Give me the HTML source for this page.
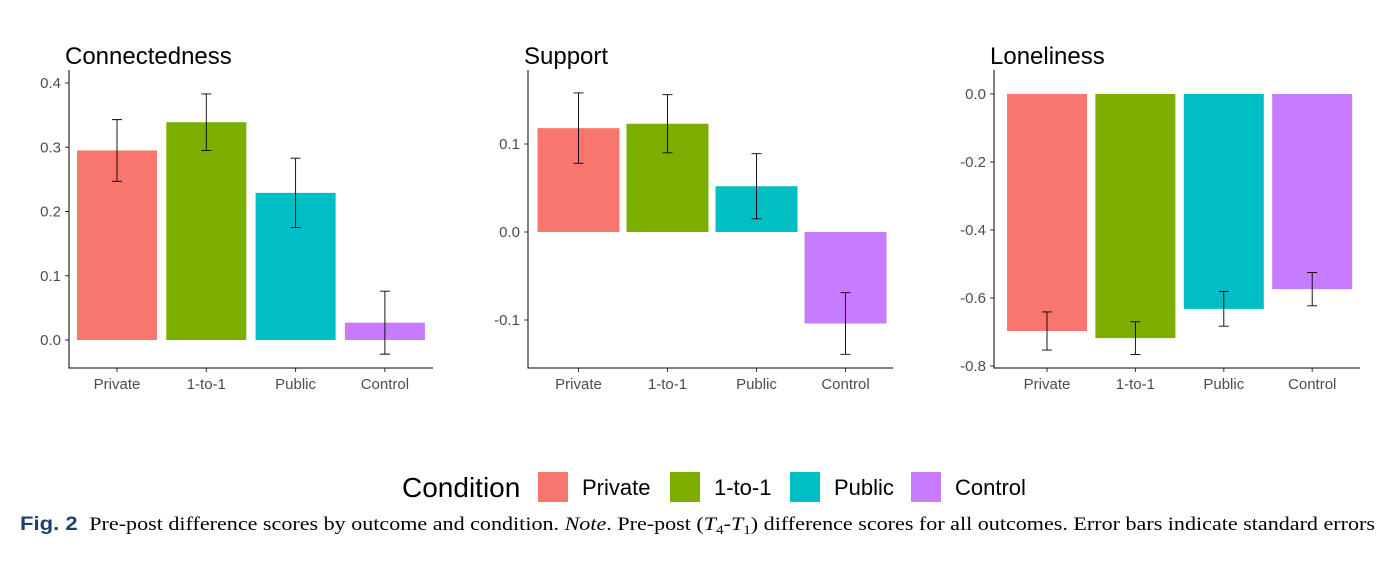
<!DOCTYPE html>
<html><head><meta charset="utf-8">
<style>
body{margin:0;background:#fff;width:1392px;height:560px;overflow:hidden;font-family:"Liberation Sans",sans-serif}
svg text{font-family:"Liberation Sans",sans-serif}
</style></head>
<body>
<svg id="chart" width="1392" height="560" xmlns="http://www.w3.org/2000/svg">
<g id="legend">
<text x="402" y="497" font-size="28" fill="#000">Condition</text>
</g>
<text x="20" y="530" font-size="19" fill="#000" textLength="1355" lengthAdjust="spacingAndGlyphs"><tspan font-weight="bold" fill="#1f3f6e" font-family="Liberation Sans">Fig. 2</tspan><tspan font-family="Liberation Serif" dx="10">Pre-post difference scores by outcome and condition. </tspan><tspan font-family="Liberation Serif" font-style="italic">Note</tspan><tspan font-family="Liberation Serif">. Pre-post (</tspan><tspan font-family="Liberation Serif" font-style="italic">T</tspan><tspan font-family="Liberation Serif" font-size="13" dy="4">4</tspan><tspan font-family="Liberation Serif" dy="-4">-</tspan><tspan font-family="Liberation Serif" font-style="italic">T</tspan><tspan font-family="Liberation Serif" font-size="13" dy="4">1</tspan><tspan font-family="Liberation Serif" dy="-4">) difference scores for all outcomes. Error bars indicate standard errors</tspan></text>
</svg>
<script>
const categories = ["Private","1-to-1","Public","Control"];
const colors = ["#F8766D","#7CAE00","#00BFC4","#C77CFF"];
const connectednessValues = [0.295,0.339,0.229,0.027];
const connectednessErrors = [0.048,0.044,0.054,0.049];
const supportValues = [0.118,0.123,0.052,-0.104];
const supportErrors = [0.040,0.033,0.037,0.035];
const lonelinessValues = [-0.697,-0.718,-0.632,-0.574];
const lonelinessErrors = [0.056,0.048,0.051,0.049];
const connectednessTicks = [0,0.1,0.2,0.3,0.4];
const supportTicks = [-0.1,0,0.1];
const lonelinessTicks = [-0.8,-0.6,-0.4,-0.2,0];
const ns="http://www.w3.org/2000/svg";
const svg=document.getElementById('chart');
function el(t,a,p){const e=document.createElementNS(ns,t);for(const k in a)e.setAttribute(k,a[k]);(p||svg).appendChild(e);return e;}
const panels=[
 {title:"Connectedness",vals:connectednessValues,errs:connectednessErrors,ticks:connectednessTicks,x0:69,x1:433,c0:117,step:89.3,bw:80,top:70,bot:368,v0:0,p0:340,v1:0.4,p1:83},
 {title:"Support",vals:supportValues,errs:supportErrors,ticks:supportTicks,x0:528,x1:893,c0:578.5,step:89,bw:82,top:70,bot:368,v0:0,p0:232,v1:0.1,p1:144},
 {title:"Loneliness",vals:lonelinessValues,errs:lonelinessErrors,ticks:lonelinessTicks,x0:994,x1:1360,c0:1047,step:88.4,bw:80,top:70,bot:368,v0:0,p0:94,v1:-0.8,p1:366}
];
panels.forEach((p)=>{
 const g=el('g',{});
 
 
 const y=v=>p.p0+(v-p.v0)*(p.p1-p.p0)/(p.v1-p.v0);
 const t=el('text',{x:p.x0-4,y:64,'font-size':24,fill:'#000'},g);t.textContent=p.title;
 
 
 p.vals.forEach((v,i)=>{
  const cx=p.c0+p.step*i, w=p.bw;
  const r=el('rect',{x:cx-w/2,y:Math.min(y(v),y(0)),width:w,height:Math.abs(y(v)-y(0)),fill:colors[i]},g);
  
  
  const e=p.errs[i],ya=y(v+e),yb=y(v-e);
  const eb=el('path',{d:`M${cx-5},${ya}H${cx+5}M${cx},${ya}V${yb}M${cx-5},${yb}H${cx+5}`,stroke:'#000','stroke-width':0.9,fill:'none'},g);
  
  
  const lt=el('text',{x:cx,y:p.bot+21,'font-size':15,fill:'#4d4d4d','text-anchor':'middle'},g);lt.textContent=categories[i];
  
  
  el('line',{x1:cx,x2:cx,y1:p.bot,y2:p.bot+4,stroke:'#333'},g);
 });
 p.ticks.forEach(tv=>{
  const ty=y(tv);
  el('line',{x1:p.x0-4,x2:p.x0,y1:ty,y2:ty,stroke:'#333'},g);
  const tl=el('text',{x:p.x0-8,y:ty+5,'font-size':15,fill:'#4d4d4d','text-anchor':'end'},g);
  tl.textContent=tv.toFixed(1);
  
  
 });
 const ax=el('path',{d:`M${p.x0},${p.top}V${p.bot}H${p.x1}`,stroke:'#000','stroke-width':1,fill:'none'},g);
 
 
});
const leg=document.getElementById('legend');
const lx=[538,670,790,911];
categories.forEach((c,i)=>{
 const r=el('rect',{x:lx[i],y:472,width:30,height:30,fill:colors[i]},leg);
 
 
 const t=el('text',{x:lx[i]+44,y:495,'font-size':22,fill:'#000'},leg);t.textContent=c;
 
 
});
</script>
</body></html>
